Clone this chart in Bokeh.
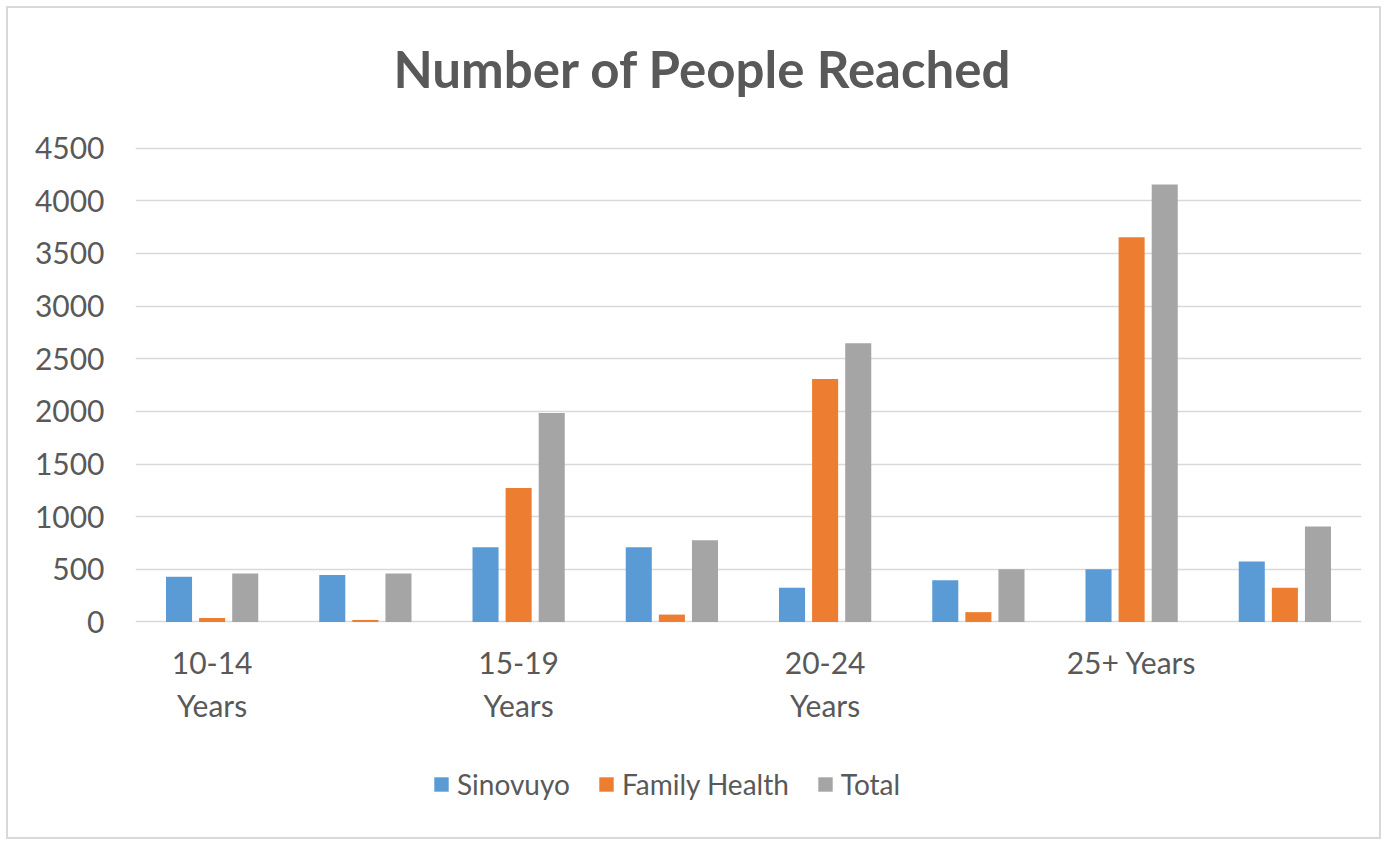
from bokeh.plotting import figure
from bokeh.models import ColumnDataSource, FixedTicker, Legend, LegendItem, Label
from bokeh.transform import dodge
from bokeh.core.properties import value
from bokeh.embed import file_html
from bokeh.resources import INLINE

# ---- data ----
title_text = "Number of People Reached"
categories = ["10-14\nYears", "", "15-19\nYears", "", "20-24\nYears", "", "25+ Years", ""]
sinovuyo = [430, 445, 710, 710, 325, 395, 500, 573]
family_health = [38, 19, 1273, 70, 2308, 93, 3655, 325]
total = [461, 461, 1985, 777, 2646, 500, 4155, 907]
series_names = ["Sinovuyo", "Family Health", "Total"]
y_ticks = [0, 500, 1000, 1500, 2000, 2500, 3000, 3500, 4000, 4500]

colors = ["#5B9BD5", "#ED7D31", "#A5A5A5"]
FONT = "Lato"
TXT = "#595959"

# canvas geometry (px): the value axis spans TOP_PX..ZERO_PX, the frame spans the full height
W, H = 1371, 829
TOP_PX, ZERO_PX = 139, 610.5
upp = 4500 / (ZERO_PX - TOP_PX)
y_end = 4500 + TOP_PX * upp
y_start = -(H - ZERO_PX) * upp

pos = [i + 0.5 for i in range(len(categories))]
src = ColumnDataSource(dict(x=pos, s=sinovuyo, f=family_health, t=total))
lab_src = ColumnDataSource(dict(x=[x for x, c in zip(pos, categories) if c],
                                y=[0] * sum(1 for c in categories if c),
                                text=[c for c in categories if c]))

p = figure(width=W + 4, height=H + 4, x_range=(0, len(categories)), y_range=(y_start, y_end),
           title=None, output_backend="svg", toolbar_location=None,
           min_border_left=127, min_border_right=22, min_border_top=0, min_border_bottom=0)
p.styles = {"border": "2px solid #d9d9d9", "margin-left": "6px", "margin-top": "6px"}

renderers = []
for field, off, col in zip(["s", "f", "t"], [-0.216, 0.0, 0.216], colors):
    r = p.vbar(x=dodge("x", off, range=p.x_range), top=field, width=0.17, source=src,
               fill_color=col, line_color=None)
    renderers.append(r)

# category labels under the zero line
p.text(x="x", y="y", text="text", source=lab_src, text_align="center", text_baseline="top",
       y_offset=22, text_font=value(FONT), text_font_size="30px", text_color=TXT,
       text_line_height=1.2)

# chart title
p.add_layout(Label(x=567.5, y=H - 55.7, x_units="screen", y_units="screen", text=title_text,
                   text_align="center", text_baseline="alphabetic", text_font=FONT,
                   text_font_style="bold", text_font_size="51px", text_color=TXT))

p.outline_line_color = None
p.background_fill_color = "white"
p.border_fill_color = "white"

p.xgrid.visible = False
p.ygrid.ticker = FixedTicker(ticks=y_ticks)
p.ygrid.grid_line_color = "#d9d9d9"
p.ygrid.grid_line_width = 1.5

p.yaxis.ticker = FixedTicker(ticks=y_ticks)
p.yaxis.axis_line_color = None
p.yaxis.major_tick_line_color = None
p.yaxis.minor_tick_line_color = None
p.yaxis.major_label_text_font = FONT
p.yaxis.major_label_text_font_size = "30px"
p.yaxis.major_label_text_color = TXT
p.yaxis.major_label_standoff = 25

p.xaxis.visible = False

legend = Legend(items=[LegendItem(label=n, renderers=[r]) for n, r in zip(series_names, renderers)],
                orientation="horizontal", location=(297, 40),
                glyph_width=18, glyph_height=18, label_standoff=7, spacing=27,
                padding=0, margin=0, border_line_color=None, background_fill_alpha=0,
                label_text_font=FONT, label_text_font_size="28px", label_text_color=TXT)
p.add_layout(legend, "center")

open("out.html", "w").write(file_html(p, INLINE))
